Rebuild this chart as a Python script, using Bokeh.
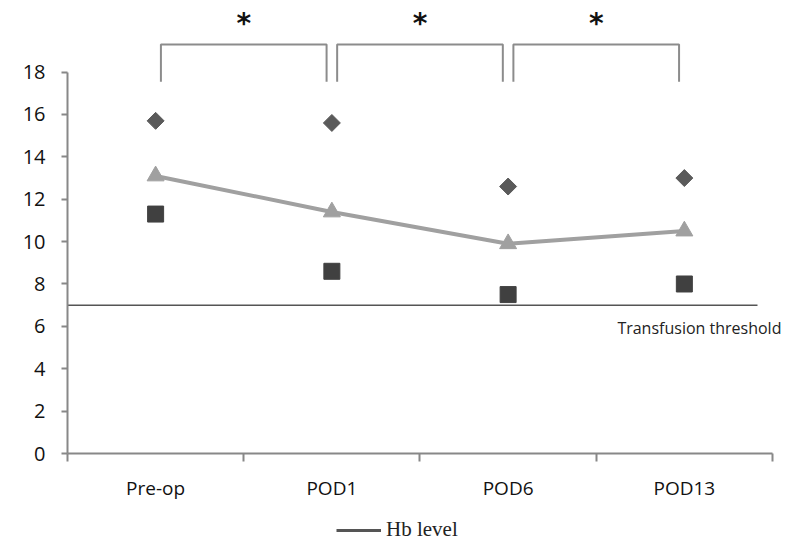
from bokeh.plotting import figure
from bokeh.layouts import column
from bokeh.models import Range1d, FixedTicker, Legend, LegendItem, Label
from bokeh.core.properties import value
from bokeh.embed import file_html
from bokeh.resources import INLINE

categories = ["Pre-op", "POD1", "POD6", "POD13"]
hb_max = [15.7, 15.6, 12.6, 13.0]
hb_mean = [13.1, 11.4, 9.9, 10.5]
hb_min = [11.3, 8.6, 7.5, 8.0]
threshold = 7.0
threshold_label = "Transfusion threshold"
sig_pairs = [(0, 1), (1, 2), (2, 3)]
sig_labels = ["*", "*", "*"]
y_ticks = list(range(0, 19, 2))
legend_label = "Hb level"

xs = list(range(len(categories)))

p = figure(width=800, height=510, x_range=Range1d(-0.5, 3.659), y_range=Range1d(0, 21.38),
           output_backend="svg", toolbar_location=None,
           min_border_left=67, min_border_right=0, min_border_top=0, min_border_bottom=57)
p.outline_line_color = None
p.xgrid.visible = False
p.ygrid.visible = False
p.background_fill_color = "white"
p.border_fill_color = "white"

axis_color = "#888888"
font = "Open Sans"

# y axis
p.yaxis.ticker = FixedTicker(ticks=y_ticks)
p.yaxis.bounds = (0, 18)
p.yaxis.axis_line_color = axis_color
p.yaxis.axis_line_width = 2
p.yaxis.major_tick_line_color = axis_color
p.yaxis.major_tick_line_width = 2
p.yaxis.major_tick_out = 6
p.yaxis.major_tick_in = 0
p.yaxis.minor_tick_line_color = None
p.yaxis.major_label_text_font = font
p.yaxis.major_label_text_font_size = "20px"
p.yaxis.major_label_text_color = "#111111"
p.yaxis.major_label_standoff = 16

# x axis
bounds_ticks = [i - 0.5 for i in range(len(categories) + 1)]
p.xaxis.ticker = FixedTicker(ticks=xs, minor_ticks=bounds_ticks)
p.xaxis.bounds = (-0.5, 3.5)
p.xaxis.major_label_overrides = {i: c for i, c in enumerate(categories)}
p.xaxis.axis_line_color = axis_color
p.xaxis.axis_line_width = 2
p.xaxis.major_tick_line_color = None
p.xaxis.major_tick_out = 0
p.xaxis.major_tick_in = 0
p.xaxis.minor_tick_line_color = axis_color
p.xaxis.minor_tick_line_width = 2
p.xaxis.minor_tick_out = 8
p.xaxis.minor_tick_in = 0
p.xaxis.major_label_text_font = font
p.xaxis.major_label_text_font_size = "19px"
p.xaxis.major_label_text_color = "#111111"
p.xaxis.major_label_standoff = 13

# threshold line
p.segment(x0=[-0.5], y0=[threshold], x1=[3.415], y1=[threshold], line_color="#555555", line_width=1.6)
p.add_layout(Label(x=2.62, y=threshold - 1.08, text=threshold_label, text_font=font,
                   text_font_size="16px", text_color="#222222", text_baseline="middle", text_align="left"))

# mean line with triangles
p.line(xs, hb_mean, line_color="#a0a0a0", line_width=4)
p.scatter(xs, hb_mean, marker="triangle", size=17, fill_color="#a0a0a0", line_color="#a0a0a0")
# max diamonds
p.scatter(xs, hb_max, marker="square", size=12, angle=0.785398, fill_color="#5a5a5a", line_color="#5a5a5a")
# min squares
p.scatter(xs, hb_min, marker="square", size=16, fill_color="#404040", line_color="#404040")

# significance brackets
d = 0.03
b_lo, b_hi = 17.55, 19.3
bx, by, mids = [], [], []
for a, b in sig_pairs:
    bx.append([a + d, a + d, b - d, b - d])
    by.append([b_lo, b_hi, b_hi, b_lo])
    mids.append((a + b) / 2)
p.multi_line(bx, by, line_color="#8c8c8c", line_width=2)
p.text(x=mids, y=[20.29] * len(mids), text=sig_labels, text_font=value("DejaVu Sans"),
       text_font_size="28px", text_font_style="bold", text_align="center",
       text_baseline="middle", text_color="#111111")

# legend strip below the chart
p2 = figure(width=800, height=38, x_range=Range1d(0, 1), y_range=Range1d(0, 1),
            output_backend="svg", toolbar_location=None,
            min_border_left=0, min_border_right=0, min_border_top=0, min_border_bottom=0)
p2.axis.visible = False
p2.xgrid.visible = False
p2.ygrid.visible = False
p2.outline_line_color = None
dummy = p2.line(x=[5, 6], y=[5, 5], line_color="#555555", line_width=3)
legend = Legend(items=[LegendItem(label=legend_label, renderers=[dummy])], location=(269, 6),
                orientation="horizontal", border_line_color=None, background_fill_alpha=0,
                padding=0, margin=0, glyph_width=45, glyph_height=24, label_height=24,
                label_text_font="Liberation Serif", label_text_font_size="21px",
                label_text_color="#222222", label_standoff=5)
p2.add_layout(legend)

open("out.html", "w").write(file_html(column(p, p2), INLINE))
